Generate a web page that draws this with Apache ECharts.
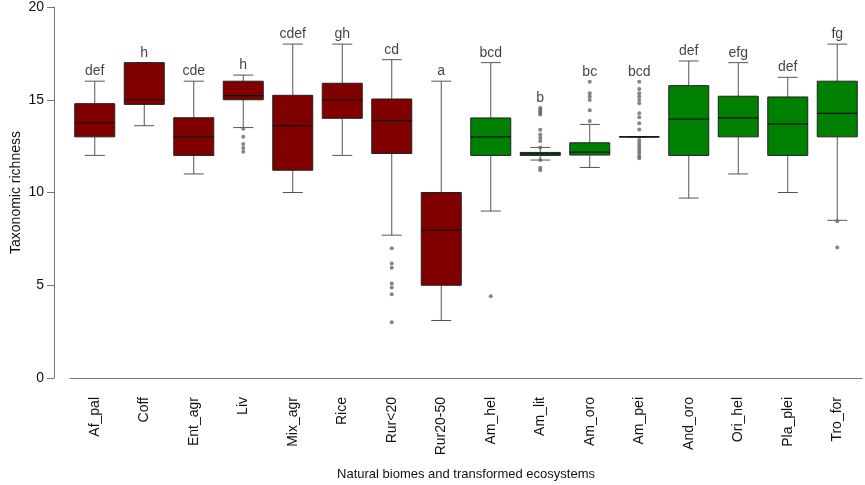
<!DOCTYPE html>
<html>
<head>
<meta charset="utf-8">
<script src="https://cdn.jsdelivr.net/npm/echarts@6/dist/echarts.min.js"></script>
<style>
  html, body { margin: 0; padding: 0; background: #fff; }
  #chart { width: 865px; height: 485px; }
</style>
</head>
<body>
<div id="chart"></div>
<script>
const categories = ['Af_pal', 'Coff', 'Ent_agr', 'Liv', 'Mix_agr', 'Rice', 'Rur<20', 'Rur20-50',
    'Am_hel', 'Am_lit', 'Am_oro', 'Am_pei', 'And_oro', 'Ori_hel', 'Pla_plei', 'Tro_for'];
// 0 = transformed ecosystem, 1 = natural biome
const kinds = [0, 0, 0, 0, 0, 0, 0, 0, 1, 1, 1, 1, 1, 1, 1, 1];
const lows    = [12.0, 13.6, 11.0, 13.5, 10.0, 12.0, 7.7, 3.1, 9.0, 11.75, 11.35, 13.0, 9.7, 11.0, 10.0, 8.5];
const q1s     = [13.0, 14.75, 12.0, 15.0, 11.2, 14.0, 12.1, 5.0, 12.0, 12.0, 12.02, 13.0, 12.0, 13.0, 12.0, 13.0];
const medians = [13.76, 15.0, 13.0, 15.22, 13.6, 15.0, 13.87, 7.97, 13.0, 12.08, 12.18, 13.0, 13.96, 14.02, 13.69, 14.27];
const q3s     = [14.79, 17.0, 14.03, 16.0, 15.24, 15.89, 15.04, 10.0, 14.02, 12.16, 12.68, 13.0, 15.76, 15.19, 15.15, 16.0];
const highs   = [16.0, 17.0, 16.0, 16.33, 18.0, 18.0, 17.16, 16.0, 17.0, 12.43, 13.67, 13.0, 17.09, 17.0, 16.21, 18.0];
const letters = ['def', 'h', 'cde', 'h', 'cdef', 'gh', 'cd', 'a', 'bcd', 'b', 'bc', 'bcd', 'def', 'efg', 'def', 'fg'];
// [category index, value]
const outliers = [
    [3, 13.44], [3, 13.0], [3, 12.61], [3, 12.4], [3, 12.2],
    [6, 7.0], [6, 6.17], [6, 5.94], [6, 5.09], [6, 4.88], [6, 4.52], [6, 3.0],
    [8, 4.41],
    [9, 14.55], [9, 14.47], [9, 14.38], [9, 14.29], [9, 14.2], [9, 13.38], [9, 13.13], [9, 12.95],
    [9, 12.77], [9, 12.43], [9, 11.75], [9, 11.33], [9, 11.2],
    [10, 15.97], [10, 15.35], [10, 15.17], [10, 14.99], [10, 14.43], [10, 13.85],
    [11, 15.97], [11, 15.58], [11, 15.35], [11, 15.17], [11, 14.99], [11, 14.81], [11, 14.27], [11, 14.05],
    [11, 13.73], [11, 13.4], [11, 12.83], [11, 12.68], [11, 12.54], [11, 12.4], [11, 12.25], [11, 12.11],
    [11, 11.96], [11, 11.84],
    [15, 8.45], [15, 7.04],
];

const COLORS = ['#800000', '#008000'];

const boxData = categories.map((c, i) => [i, lows[i], q1s[i], medians[i], q3s[i], highs[i], kinds[i]]);

/** top of each group (whisker or highest outlier), where the letter sits */
const letterData = categories.map((c, i) => {
    let top = highs[i];
    for (const o of outliers) {
        if (o[0] === i && o[1] > top) top = o[1];
    }
    return { value: [i, top], label: { formatter: letters[i] } };
});

const renderBox = (params, api) => {
    const i = api.value(0);
    const pLow = api.coord([i, api.value(1)]);
    const pQ1 = api.coord([i, api.value(2)]);
    const pMed = api.coord([i, api.value(3)]);
    const pQ3 = api.coord([i, api.value(4)]);
    const pHigh = api.coord([i, api.value(5)]);
    const cx = pMed[0];
    const half = 20, cap = 10;
    const whisker = { stroke: '#555', lineWidth: 1 };
    return {
        type: 'group',
        children: [
            { type: 'line', shape: { x1: cx, y1: pQ1[1], x2: cx, y2: pLow[1] }, style: whisker },
            { type: 'line', shape: { x1: cx, y1: pQ3[1], x2: cx, y2: pHigh[1] }, style: whisker },
            { type: 'line', shape: { x1: cx - cap, y1: pLow[1], x2: cx + cap, y2: pLow[1] }, style: whisker },
            { type: 'line', shape: { x1: cx - cap, y1: pHigh[1], x2: cx + cap, y2: pHigh[1] }, style: whisker },
            {
                type: 'rect',
                shape: { x: cx - half, y: pQ3[1], width: half * 2, height: pQ1[1] - pQ3[1] },
                style: { fill: COLORS[api.value(6)], stroke: '#222', lineWidth: 1 },
            },
            { type: 'line', shape: { x1: cx - half, y1: pMed[1], x2: cx + half, y2: pMed[1] },
              style: { stroke: '#111', lineWidth: 1.2 } },
        ],
    };
};

const chart = echarts.init(document.getElementById('chart'));
chart.setOption({
    animation: false,
    textStyle: { fontFamily: 'Liberation Sans, Arial, sans-serif' },
    grid: { left: 70, right: 3, top: 7, height: 371, outerBoundsMode: 'none', containLabel: false },
    xAxis: {
        type: 'category',
        data: categories,
        offset: 7,
        name: 'Natural biomes and transformed ecosystems',
        nameLocation: 'middle',
        nameGap: 83,
        nameMoveOverlap: false,
        nameTextStyle: { fontSize: 13, color: '#111' },
        axisLine: { lineStyle: { color: '#777' } },
        axisTick: { alignWithLabel: true, length: 9, lineStyle: { color: '#777' } },
        axisLabel: { rotate: 90, fontSize: 14, color: '#111', margin: 12, interval: 0 },
    },
    yAxis: {
        type: 'value',
        min: 0,
        max: 20,
        interval: 5,
        offset: 16,
        name: 'Taxonomic richness',
        nameLocation: 'middle',
        nameGap: 31,
        nameMoveOverlap: false,
        nameTextStyle: { fontSize: 14, color: '#111' },
        splitLine: { show: false },
        axisLine: { show: true, lineStyle: { color: '#777' } },
        axisTick: { show: true, length: 7, lineStyle: { color: '#777' } },
        axisLabel: { fontSize: 14, color: '#111', margin: 10 },
    },
    series: [
        {
            type: 'custom',
            renderItem: renderBox,
            encode: { x: 0, y: [1, 2, 3, 4, 5] },
            data: boxData,
            z: 2,
        },
        {
            type: 'scatter',
            data: outliers,
            symbolSize: 4,
            itemStyle: { color: '#666' },
            z: 3,
        },
        {
            type: 'scatter',
            data: letterData,
            symbolSize: 0,
            label: { show: true, position: 'top', distance: 3, fontSize: 14, color: '#111' },
            z: 4,
        },
    ],
});
</script>
</body>
</html>
